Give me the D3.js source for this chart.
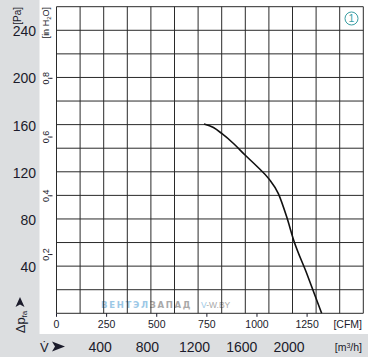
<!DOCTYPE html>
<html>
<head>
<meta charset="utf-8">
<script src="https://cdn.jsdelivr.net/npm/d3@7"></script>
<style>
  body { margin: 0; background: #fff; }
  svg { display: block; }
  text { font-family: "Liberation Sans Narrow", "Arial Narrow", "Liberation Sans", sans-serif; fill: #1b1b2b; }
</style>
</head>
<body>
<div id="chart"></div>
<script>
// fan curve (airflow in m3/h, static pressure in Pa)
const airflow = [1250, 1330, 1400, 1500, 1600, 1700, 1800, 1880, 1950, 2010, 2120, 2247]
const pressure = [160.5, 157.5, 152.5, 144, 134, 124.5, 114, 101.5, 82, 62, 34, 0]

const paTicks = [40, 80, 120, 160, 200, 240]
const inH2OTicks = [0.2, 0.4, 0.6, 0.8]
const cfmTicks = [0, 250, 500, 750, 1000, 1250]
const m3hTicks = [400, 800, 1200, 1600, 2000]

const PA_PER_INH2O = 249.09
const M3H_PER_CFM = 1.699

function drawBackground(svg) {
  // grey strips on the left and bottom
  svg.append("rect")
    .attr("x", 0).attr("y", 0)
    .attr("width", 39.5).attr("height", 357)
    .attr("fill", "#dcdee0")
  svg.append("rect")
    .attr("x", 0).attr("y", 334)
    .attr("width", 368).attr("height", 23)
    .attr("fill", "#dcdee0")
}

function drawGrid(g, x, y) {
  let xs = d3.range(0, 2601, 200)
  let ys = d3.range(0, 261, 20)

  g.selectAll("line.v")
    .data(xs)
    .enter()
    .append("line")
    .attr("class", "v")
    .attr("x1", d => x(d)).attr("x2", d => x(d))
    .attr("y1", y(0)).attr("y2", y(260))
    .attr("stroke", "#2a2a2a")
    .attr("stroke-width", 1)

  g.selectAll("line.h")
    .data(ys)
    .enter()
    .append("line")
    .attr("class", "h")
    .attr("x1", x(0)).attr("x2", x(2600))
    .attr("y1", d => y(d)).attr("y2", d => y(d))
    .attr("stroke", "#2a2a2a")
    .attr("stroke-width", 1)
}

function drawWatermark(g) {
  let t = g.append("text")
    .attr("x", 101)
    .attr("y", 308)
    .attr("font-size", 8.5)
    .attr("font-weight", "bold")
    .attr("letter-spacing", 1.7)
    .style("font-family", "'DejaVu Sans', sans-serif")
  t.append("tspan").text("ВЕНТЭЛ").style("fill", "#9cc8e6")
  t.append("tspan").text("ЗАПАД").style("fill", "#a9a9a9")

  let t2 = g.append("text")
    .attr("x", 201)
    .attr("y", 308)
    .attr("font-size", 8.5)
  t2.append("tspan").text("V").style("fill", "#9cc8e6")
  t2.append("tspan").text("-W.BY").style("fill", "#a9a9a9")
}

function drawAxes(svg, x, y) {
  // Pa labels on the left
  svg.selectAll("text.pa")
    .data(paTicks)
    .enter()
    .append("text")
    .attr("class", "pa")
    .attr("x", 36)
    .attr("y", d => y(d) + 6)
    .attr("text-anchor", "end")
    .attr("font-size", 14)
    .text(d => d)

  svg.append("text")
    .attr("transform", "translate(21,7) rotate(-90)")
    .attr("text-anchor", "end")
    .attr("font-size", 10)
    .text("[Pa]")

  // inch of water labels, rotated
  let inG = svg.append("g")
  inH2OTicks.forEach(v => {
    let yy = y(v * PA_PER_INH2O)
    inG.append("text")
      .attr("transform", `translate(49,${yy}) rotate(-90)`)
      .attr("text-anchor", "middle")
      .attr("font-size", 9)
      .text(String(v).replace(".", ","))
    inG.append("line")
      .attr("x1", 49.5).attr("x2", 52.5)
      .attr("y1", yy).attr("y2", yy)
      .attr("stroke", "#1b1b2b")
  })

  let inLabel = svg.append("text")
    .attr("transform", "translate(49,7) rotate(-90)")
    .attr("text-anchor", "end")
    .attr("font-size", 9)
  inLabel.append("tspan").text("[in H")
  inLabel.append("tspan").text("2").attr("font-size", 6).attr("dy", 2)
  inLabel.append("tspan").text("O]").attr("dy", -2)

  // delta p label with arrow head
  svg.append("path")
    .attr("d", "M20,297 L24.5,307 L20,304.5 L15.5,307 Z")
    .attr("fill", "#1b1b2b")
  let dp = svg.append("text")
    .attr("transform", "translate(25,322) rotate(-90)")
    .attr("text-anchor", "middle")
    .attr("font-size", 13)
  dp.append("tspan").text("Δp")
  dp.append("tspan").text("fa").attr("font-size", 8).attr("dy", 2)

  // CFM axis under the plot
  let cfm = d => x(d * M3H_PER_CFM)
  svg.selectAll("line.cfm")
    .data(cfmTicks)
    .enter()
    .append("line")
    .attr("class", "cfm")
    .attr("x1", cfm).attr("x2", cfm)
    .attr("y1", y(0)).attr("y2", y(0) + 3.5)
    .attr("stroke", "#1b1b2b")

  svg.selectAll("text.cfm")
    .data(cfmTicks)
    .enter()
    .append("text")
    .attr("class", "cfm")
    .attr("x", cfm)
    .attr("y", 328)
    .attr("text-anchor", "middle")
    .attr("font-size", 10.5)
    .text(d => d)

  svg.append("text")
    .attr("x", 362)
    .attr("y", 328)
    .attr("text-anchor", "end")
    .attr("font-size", 10.5)
    .text("[CFM]")

  // m3/h labels in the grey strip
  svg.selectAll("text.m3h")
    .data(m3hTicks)
    .enter()
    .append("text")
    .attr("class", "m3h")
    .attr("x", d => x(d) - 3.5)
    .attr("y", 351.5)
    .attr("text-anchor", "middle")
    .attr("font-size", 14)
    .text(d => d)

  let unit = svg.append("text")
    .attr("x", 362)
    .attr("y", 351)
    .attr("text-anchor", "end")
    .attr("font-size", 10.5)
  unit.append("tspan").text("[m")
  unit.append("tspan").text("3").attr("font-size", 7).attr("dy", -3)
  unit.append("tspan").text("/h]").attr("dy", 3)

  svg.append("text")
    .attr("x", 40)
    .attr("y", 351.5)
    .attr("font-size", 13)
    .text("V\u0307")
  svg.append("path")
    .attr("d", "M52,341.5 L65,346.5 L52,351.5 L55,346.5 Z")
    .attr("fill", "#1b1b2b")
}

function drawCurve(g, x, y) {
  let line = d3.line()
    .x(d => x(d[0]))
    .y(d => y(d[1]))
    .curve(d3.curveMonotoneX)

  g.append("path")
    .datum(d3.zip(airflow, pressure))
    .attr("d", line)
    .attr("fill", "none")
    .attr("stroke", "#111")
    .attr("stroke-width", 1.6)
}

function drawBadge(g, x, y) {
  let cx = x(2500), cy = y(250)
  g.append("circle")
    .attr("cx", cx).attr("cy", cy)
    .attr("r", 6.5)
    .attr("fill", "#fff")
    .attr("stroke", "#3a9ea3")
    .attr("stroke-width", 1)
  g.append("text")
    .attr("x", cx).attr("y", cy + 3.6)
    .attr("text-anchor", "middle")
    .attr("font-size", 10.5)
    .style("fill", "#3a9ea3")
    .text("1")
}

function createChart() {
  const width = 371,
    height = 364

  const svg = d3.select("#chart").append("svg")
    .attr("width", width)
    .attr("height", height)

  const x = d3.scaleLinear().domain([0, 2600]).range([56.5, 363.3])
  const y = d3.scaleLinear().domain([0, 260]).range([313.3, 6.7])

  drawBackground(svg)
  let plot = svg.append("g")
  drawWatermark(plot)
  drawGrid(plot, x, y)
  drawBadge(plot, x, y)
  drawCurve(plot, x, y)
  drawAxes(svg, x, y)
}

createChart()
</script>
</body>
</html>
